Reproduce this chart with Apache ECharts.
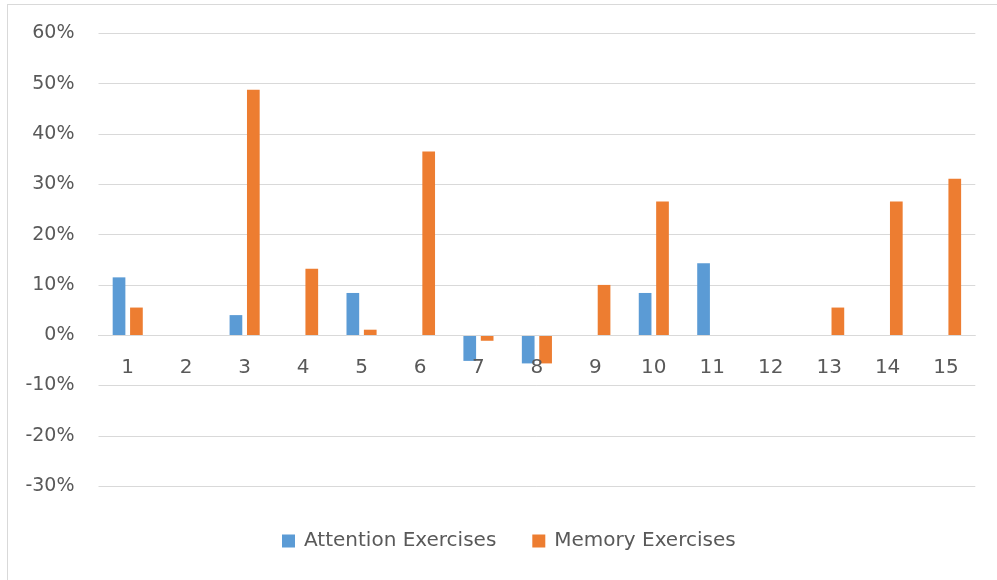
<!DOCTYPE html>
<html>
<head>
<meta charset="utf-8">
<script src="https://cdn.jsdelivr.net/npm/echarts@6/dist/echarts.min.js"></script>
<style>
  html, body { margin: 0; padding: 0; background: #ffffff; }
  #frame { position: absolute; left: 7px; top: 4px; width: 1000px; height: 590px; border: 1px solid #d9d9d9; box-sizing: border-box; }
  #chart { position: absolute; left: 0; top: 0; width: 997px; height: 580px; }
</style>
</head>
<body>
<div id="frame"></div>
<div id="chart"></div>
<script>
// Session numbers along the x axis
const categories = ['1', '2', '3', '4', '5', '6', '7', '8', '9', '10', '11', '12', '13', '14', '15'];

// Change per session, in percent (null = no bar)
const attentionValues = [11.5, null, 4.0, null, 8.4, null, -5.1, -5.6, null, 8.4, 14.3, null, null, null, null];
const memoryValues = [5.5, null, 48.8, 13.2, 1.1, 36.5, -1.1, -5.6, 10.0, 26.6, null, null, 5.5, 26.6, 31.1];

// Value axis range and step, in percent
const yMin = -30;
const yMax = 60;
const yStep = 10;

const seriesNames = ['Attention Exercises', 'Memory Exercises'];

const textColor = '#595959';
const gridColor = '#d9d9d9';
const fontFamily = '"DejaVu Sans", sans-serif';

const gridTop = 33.3;
const gridBottom = 93.8;
const chartHeight = 580;

// Lift the category axis (line and labels) up to the zero line
const plotHeight = chartHeight - gridTop - gridBottom;
const zeroOffset = -plotHeight * (0 - yMin) / (yMax - yMin);

const chart = echarts.init(document.getElementById('chart'), null, { renderer: 'canvas' });

chart.setOption({
  animation: false,
  color: ['#5b9bd5', '#ed7d31'],
  grid: { left: 98.5, right: 21.7, top: gridTop, bottom: gridBottom, containLabel: false },
  legend: {
    data: seriesNames,
    bottom: 24,
    left: 277,
    itemWidth: 13,
    itemHeight: 13,
    itemGap: 36,
    icon: 'rect',
    textStyle: { color: textColor, fontSize: 20, fontFamily: fontFamily, padding: [0, 0, 0, 4] }
  },
  xAxis: {
    type: 'category',
    data: categories,
    position: 'bottom',
    offset: zeroOffset,
    z: 3,
    axisLine: { onZero: false, lineStyle: { color: gridColor, width: 1 } },
    axisTick: { show: false },
    axisLabel: { color: textColor, fontSize: 20, fontFamily: fontFamily, margin: 23 },
    splitLine: { show: false }
  },
  yAxis: {
    type: 'value',
    min: yMin,
    max: yMax,
    interval: yStep,
    axisLine: { show: false },
    axisTick: { show: false },
    axisLabel: { color: textColor, fontSize: 19, fontFamily: fontFamily, margin: 24, formatter: '{value}%' },
    splitLine: { lineStyle: { color: gridColor, width: 1 } }
  },
  series: [
    {
      name: seriesNames[0],
      type: 'bar',
      data: attentionValues,
      barWidth: 12.7,
      barGap: '37%'
    },
    {
      name: seriesNames[1],
      type: 'bar',
      data: memoryValues,
      barWidth: 12.7,
      barGap: '37%'
    }
  ]
});
</script>
</body>
</html>
